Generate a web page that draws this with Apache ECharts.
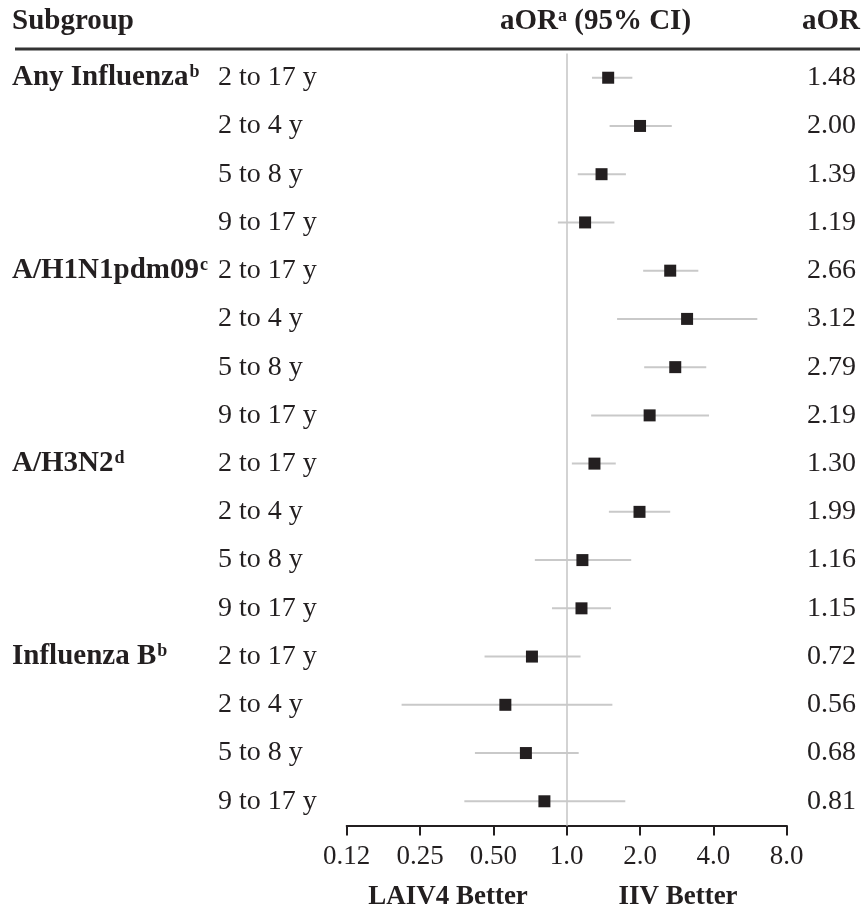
<!DOCTYPE html>
<html>
<head>
<meta charset="utf-8">
<script src="https://cdn.jsdelivr.net/npm/echarts@6/dist/echarts.min.js"></script>
<style>
html,body{margin:0;padding:0;background:#fff;}
#chart{width:863px;height:912px;}
</style>
</head>
<body>
<div id="chart"></div>
<script>
// ---- data ----
const groupNames = ['Any Influenza', 'A/H1N1pdm09', 'A/H3N2', 'Influenza B'];
const groupNotes = ['b', 'c', 'd', 'b'];
const ageGroups = ['2 to 17 y', '2 to 4 y', '5 to 8 y', '9 to 17 y'];
const aorValues = [1.48, 2.00, 1.39, 1.19, 2.66, 3.12, 2.79, 2.19, 1.30, 1.99, 1.16, 1.15, 0.72, 0.56, 0.68, 0.81];
const ciLower   = [1.27, 1.50, 1.11, 0.92, 2.06, 1.61, 2.08, 1.26, 1.05, 1.49, 0.74, 0.87, 0.46, 0.21, 0.42, 0.38];
const ciUpper   = [1.86, 2.70, 1.75, 1.57, 3.47, 6.06, 3.74, 3.84, 1.59, 2.66, 1.84, 1.52, 1.14, 1.54, 1.12, 1.74];
const xTickValues = [0.125, 0.25, 0.5, 1, 2, 4, 8];
const xTickLabels = ['0.12', '0.25', '0.50', '1.0', '2.0', '4.0', '8.0'];

// ---- build ----
const rows = [];
groupNames.forEach((g, gi) => ageGroups.forEach((a, ai) => rows.push({ gi, ai, age: a })));
const cats = rows.map((r, i) => 'r' + i);

const FONT = '"Liberation Serif", "Times New Roman", serif';
const INK = '#231f20';
const FS = 28;     // regular row labels
const FSB = 29;    // bold labels / headers
const FST = 27;    // tick labels
const FSUP = 18;

const chart = echarts.init(document.getElementById('chart'), null, { renderer: 'canvas' });

const catAxisBase = {
  type: 'category',
  data: cats,
  inverse: true,
  axisLine: { show: false },
  axisTick: { show: false },
  splitLine: { show: false }
};

const option = {
  animation: false,
  backgroundColor: '#fff',
  grid: { left: 346.7, right: 76.3, top: 53.6, bottom: 86.6, containLabel: false },
  xAxis: {
    type: 'log',
    logBase: 2,
    min: 0.125,
    max: 8,
    axisLine: { show: true, lineStyle: { color: INK, width: 2 } },
    axisTick: { show: true, length: 10, lineStyle: { color: INK, width: 2 } },
    splitLine: { show: false },
    axisLabel: {
      fontFamily: FONT, fontSize: FST, color: INK, margin: 18,
      formatter: v => {
        const i = xTickValues.findIndex(t => Math.abs(t - v) < 1e-6);
        return i >= 0 ? xTickLabels[i] : '';
      }
    }
  },
  yAxis: [
    Object.assign({}, catAxisBase, {
      position: 'left',
      axisLabel: {
        interval: 0, align: 'left', margin: 128.7,
        fontFamily: FONT, fontSize: FS, color: INK,
        formatter: (v, i) => rows[i].age
      }
    }),
    Object.assign({}, catAxisBase, {
      position: 'left',
      axisLabel: {
        interval: 0, align: 'left', margin: 334.7,
        fontFamily: FONT, fontSize: FSB, fontWeight: 'bold', color: INK,
        formatter: (v, i) => rows[i].ai === 0 ? groupNames[rows[i].gi] + '{sup|' + groupNotes[rows[i].gi] + '}' : '',
        rich: {
          sup: { fontFamily: FONT, fontSize: FSUP, fontWeight: 'bold', color: INK, verticalAlign: 'top', padding: [0, 0, 0, 1] }
        }
      }
    }),
    Object.assign({}, catAxisBase, {
      position: 'right',
      axisLabel: {
        interval: 0, align: 'right', margin: 69.3,
        fontFamily: FONT, fontSize: FS, color: INK,
        formatter: (v, i) => aorValues[i].toFixed(2)
      }
    })
  ],
  series: [
    {
      type: 'custom',
      xAxisIndex: 0,
      yAxisIndex: 0,
      z: 3,
      data: rows.map((r, i) => [ciLower[i], ciUpper[i], i]),
      encode: { x: [0, 1], y: 2 },
      renderItem: (params, api) => {
        const p1 = api.coord([api.value(0), api.value(2)]);
        const p2 = api.coord([api.value(1), api.value(2)]);
        return {
          type: 'line',
          shape: { x1: p1[0], y1: p1[1], x2: p2[0], y2: p2[1] },
          style: { stroke: '#c9c9c9', lineWidth: 2 }
        };
      },
      silent: true
    },
    {
      type: 'scatter',
      xAxisIndex: 0,
      yAxisIndex: 0,
      z: 5,
      symbol: 'rect',
      symbolSize: 12,
      itemStyle: { color: INK, opacity: 1 },
      data: rows.map((r, i) => [aorValues[i], i]),
      markLine: {
        silent: true,
        symbol: 'none',
        z: 1,
        label: { show: false },
        lineStyle: { color: '#d3d3d3', width: 2, type: 'solid' },
        data: [{ xAxis: 1 }]
      }
    }
  ],
  graphic: [
    {
      type: 'line', silent: true,
      shape: { x1: 15, y1: 49, x2: 860, y2: 49 },
      style: { stroke: '#333333', lineWidth: 3 }
    },
    {
      type: 'text', left: 12, top: 7,
      style: { text: 'Subgroup', font: 'bold ' + FSB + 'px ' + FONT, fill: INK }
    },
    {
      type: 'text', left: 500, top: 7,
      style: {
        text: 'aOR{sup|a} (95% CI)',
        font: 'bold ' + FSB + 'px ' + FONT, fill: INK,
        rich: { sup: { fontFamily: FONT, fontSize: FSUP, fontWeight: 'bold', fill: INK, verticalAlign: 'top' } }
      }
    },
    {
      type: 'text', right: 3, top: 7,
      style: { text: 'aOR', font: 'bold ' + FSB + 'px ' + FONT, fill: INK, textAlign: 'right' }
    },
    {
      type: 'text', x: 448, y: 897,
      style: { text: 'LAIV4 Better', font: 'bold ' + FST + 'px ' + FONT, fill: INK, textAlign: 'center', textVerticalAlign: 'middle' }
    },
    {
      type: 'text', x: 678, y: 897,
      style: { text: 'IIV Better', font: 'bold ' + FST + 'px ' + FONT, fill: INK, textAlign: 'center', textVerticalAlign: 'middle' }
    }
  ]
};

chart.setOption(option);
</script>
</body>
</html>
